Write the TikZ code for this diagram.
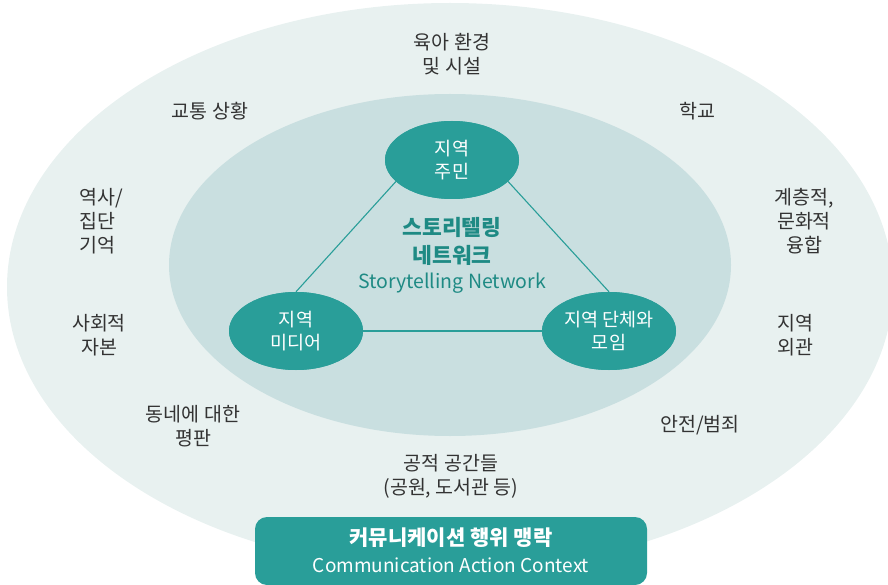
\documentclass[tikz,border=0pt]{standalone}
\usepackage{fontspec}
\setmainfont{Noto Sans CJK KR}
\usetikzlibrary{shapes.geometric}

\definecolor{outerbg}{HTML}{E8F1F0}
\definecolor{innerbg}{HTML}{C9DFE0}
\definecolor{netteal}{HTML}{299E99}
\definecolor{titleteal}{HTML}{1E8A84}
\definecolor{labelgray}{HTML}{333333}

\begin{document}
\begin{tikzpicture}[x=1pt,y=-1pt,
  actor/.style={ellipse, fill=netteal, text=white, inner sep=0pt,
    minimum width=134pt, minimum height=78pt, align=center,
    font=\fontsize{18.5}{23}\selectfont},
  link/.style={draw=netteal, line width=1.1pt},
  ctx/.style={text=labelgray, align=center, inner sep=0pt,
    font=\fontsize{19.5}{24}\selectfont},
  banner/.style={fill=netteal, rounded corners=12pt, inner sep=0pt,
    minimum width=392pt, minimum height=68pt},
  bannertext/.style={text=white, inner sep=0pt}]

\useasboundingbox (0,0) rectangle (888,585);
\clip (0,0) rectangle (888,585);

% context layers
\fill[outerbg] (450,287) ellipse [x radius=443pt, y radius=284pt];
\fill[innerbg] (450,265) ellipse [x radius=281pt, y radius=171pt];

% network actors
\node[actor] (resid) at (452,160) {지역\\주민};
\node[actor] (media) at (296,331) {지역\\미디어};
\node[actor] (group) at (609,331) {지역 단체와\\모임};

% ties between actors
\draw[link] (resid.201) -- (media.north);
\draw[link] (resid.339) -- (group.north);
\draw[link] (media.east) -- (group.west);

% redraw actors above the ties
\node[actor] at (resid) {지역\\주민};
\node[actor] at (media) {지역\\미디어};
\node[actor] at (group) {지역 단체와\\모임};

% network title
\node[text=titleteal, align=center, inner sep=0pt,
  font=\bfseries\fontsize{21.5}{28}\selectfont] (title) at (452,241) {스토리텔링\\네트워크};
\node[text=titleteal, inner sep=0pt, font=\fontsize{19.5}{24}\selectfont]
  (titleen) at (452,283) {Storytelling Network};

% surrounding context factors
\node[ctx] (care) at (452,54) {육아 환경\\및 시설};
\node[ctx] (traffic) at (210,111) {교통 상황};
\node[ctx] (school) at (697,111) {학교};
\node[ctx, align=left, anchor=west] (memory) at (79,221) {역사/\\집단\\기억};
\node[ctx] (fusion) at (804,221) {계층적,\\문화적\\융합};
\node[ctx] (capital) at (99,335) {사회적\\자본};
\node[ctx] (looks) at (795,335) {지역\\외관};
\node[ctx] (repute) at (193,426) {동네에 대한\\평판};
\node[ctx] (safety) at (700,425) {안전/범죄};
\node[ctx] (public) at (451,476) {공적 공간들\\(공원, 도서관 등)};

% context banner
\node[banner] (banner) at (451,551) {};
\node[bannertext, font=\bfseries\fontsize{21}{26}\selectfont] (bannerko)
  at (451,538) {커뮤니케이션 행위 맹락};
\node[bannertext, font=\fontsize{19}{24}\selectfont] (banneren)
  at (451,565) {Communication Action Context};
\end{tikzpicture}
\end{document}
